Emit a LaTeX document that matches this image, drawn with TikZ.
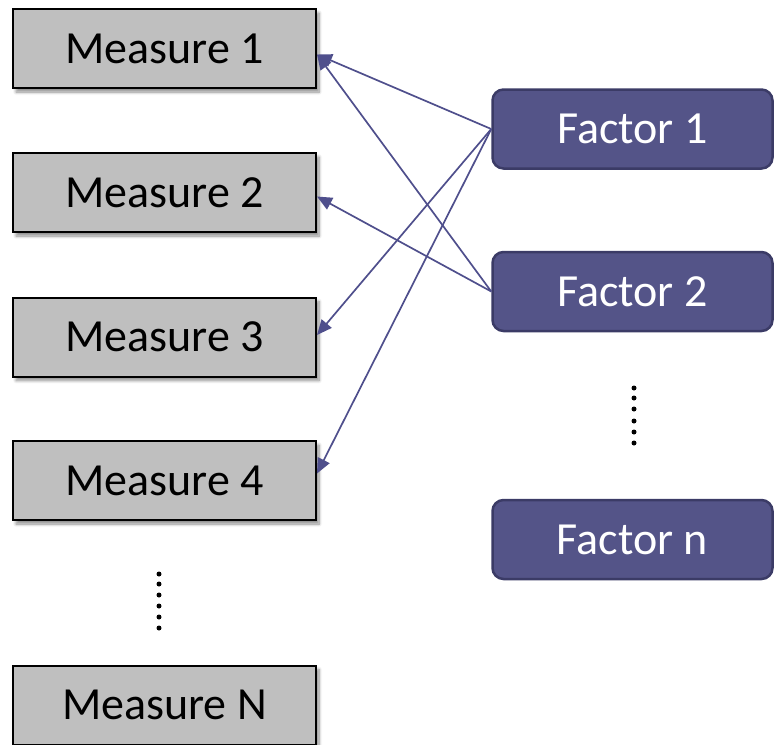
\documentclass[tikz,border=0pt]{standalone}
\usepackage{fontspec}
\setmainfont{Carlito}
\usetikzlibrary{arrows.meta,shadows.blur}
\definecolor{mgray}{HTML}{BFBFBF}
\definecolor{ffill}{HTML}{545488}
\definecolor{fborder}{HTML}{3B3B66}
\definecolor{arr}{HTML}{4F4F8C}
\begin{document}
\begin{tikzpicture}[x=1pt,y=-1pt,
  measure/.style={draw=black, line width=2pt, fill=mgray, minimum width=303pt, minimum height=79pt, inner sep=0pt,
    font=\fontsize{46}{55}\selectfont,
    blur shadow={shadow xshift=3pt, shadow yshift=-4pt, shadow opacity=45, shadow blur radius=3pt, shadow blur steps=8}},
  factor/.style={draw=fborder, line width=2.5pt, fill=ffill, rounded corners=11pt, text=white, minimum width=280pt, minimum height=79pt, inner sep=0pt,
    font=\fontsize{46}{55}\selectfont},
  link/.style={draw=arr, line width=1.7pt, -{Triangle[length=15pt,width=13pt]}},
  dotmark/.style={circle, fill=black, inner sep=0pt, minimum size=5pt}]
\useasboundingbox (0,0) rectangle (775,744);
\clip (0,0) rectangle (775,744);
\node[measure] (m1) at (164.5,48.5) {Measure 1};
\node[measure] (m2) at (164.5,192.5) {Measure 2};
\node[measure] (m3) at (164.5,337) {Measure 3};
\node[measure] (m4) at (164.5,480.5) {Measure 4};
\node[measure] (mN) at (164.5,705) {Measure N};
\node[factor] (f1) at (632.5,129) {Factor 1};
\node[factor] (f2) at (632.5,291.5) {Factor 2};
\node[factor] (fn) at (632.5,539.5) {Factor n};
\foreach \y [count=\i] in {574,584,595,606,617,628} \node[dotmark] (dm\i) at (159,\y) {};
\foreach \y [count=\i] in {388,398,409,421,432,443} \node[dotmark] (df\i) at (634,\y) {};
\draw[link] (f1.west) -- ([yshift=-6pt]m1.east);
\draw[link] (f1.west) -- ([yshift=2pt]m3.east);
\draw[link] (f1.west) -- ([yshift=7pt]m4.east);
\draw[link] (f2.west) -- ([yshift=-6pt]m1.east);
\draw[link] (f2.west) -- ([yshift=-4pt]m2.east);
\end{tikzpicture}
\end{document}
